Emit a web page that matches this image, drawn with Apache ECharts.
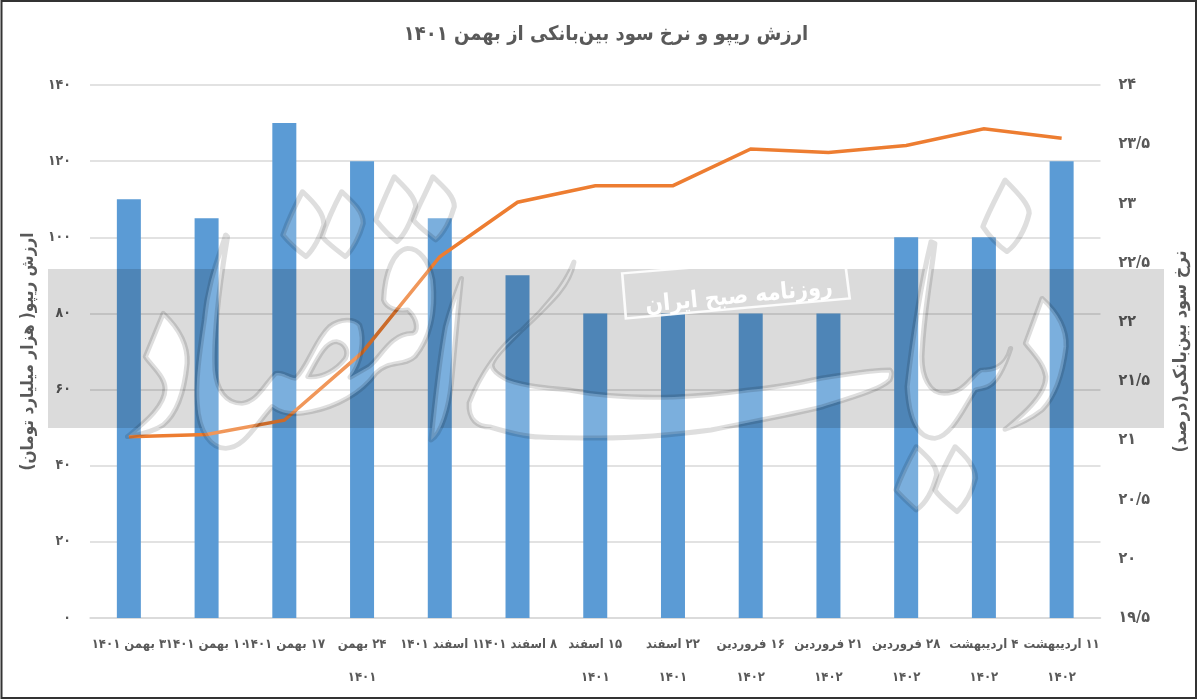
<!DOCTYPE html>
<html><head><meta charset="utf-8">
<script src="https://cdn.jsdelivr.net/npm/echarts@6/dist/echarts.min.js"></script>
<style>html,body{margin:0;padding:0;background:#fff}#c{width:1200px;height:700px;direction:rtl}</style>
</head><body><div id="c"></div>
<script>
const titleText = 'ارزش ریپو و نرخ سود بین‌بانکی از بهمن ۱۴۰۱';
const leftAxisName = 'ارزش ریپو( هزار میلیارد تومان)';
const rightAxisName = 'نرخ سود بین‌بانکی(درصد)';
const bannerText = 'روزنامه صبح ایران';
const categories = ['۳ بهمن ۱۴۰۱','۱۰ بهمن ۱۴۰۱','۱۷ بهمن ۱۴۰۱','۲۴ بهمن\n۱۴۰۱','۱ اسفند ۱۴۰۱','۸ اسفند ۱۴۰۱','۱۵ اسفند\n۱۴۰۱','۲۲ اسفند\n۱۴۰۱','۱۶ فروردین\n۱۴۰۲','۲۱ فروردین\n۱۴۰۲','۲۸ فروردین\n۱۴۰۲','۴ اردیبهشت\n۱۴۰۲','۱۱ اردیبهشت\n۱۴۰۲'];
const repoValues = [110,105,130,120,105,90,80,80,80,80,100,100,120];
const rateValues = [21.03,21.05,21.17,21.74,22.55,23.01,23.15,23.15,23.46,23.43,23.49,23.63,23.55];
const font = '"DejaVu Sans Condensed","DejaVu Sans",sans-serif';
const ink = '#595959';
const toFa = v => String(v).replace(/\d/g, d => '۰۱۲۳۴۵۶۷۸۹'[d]).replace('.', '/');

// watermark outlines, in crop coordinates of the group they belong to
const wmLeft = [
 'M245,800 C290,760 350,710 350,655 C350,620 310,585 295,560 L345,430 C385,470 415,520 412,580 C405,660 385,730 345,765 C310,790 270,795 245,800Z',
 'M520,195 C505,250 470,330 460,450 C445,560 435,640 440,700 C445,790 480,835 520,835 C570,835 600,770 650,710 C680,735 720,735 760,725 C830,710 900,670 940,610 C975,570 1020,590 1050,560 C1090,510 1110,430 1100,330 C1090,270 1060,235 1030,235 C990,240 965,310 962,390 C970,415 1000,425 1030,420 C1060,450 1060,490 1040,490 C980,490 950,570 920,590 L868,622 C900,580 910,510 895,465 C880,445 840,445 810,470 C770,510 750,590 715,625 C690,620 680,605 660,610 C630,640 610,695 565,700 C520,700 495,660 490,600 C485,500 505,330 525,200Z M750,620 C780,560 800,515 830,515 C855,520 865,545 855,565 C830,600 790,625 750,620Z',
 'M1180,325 C1160,380 1145,430 1135,470 C1120,560 1105,700 1095,810 C1125,790 1145,710 1152,640 C1160,540 1170,430 1180,325Z',
 'M735,65 C770,100 795,130 795,165 C785,200 765,240 745,260 C720,240 695,215 680,195 C695,150 715,105 735,65Z',
 'M845,65 C880,100 905,125 905,160 C895,200 875,240 855,260 C830,240 805,220 790,200 C805,150 825,105 845,65Z',
 'M992,20 C1025,55 1050,80 1052,110 C1040,150 1020,195 1000,215 C975,195 955,170 940,150 C955,105 975,60 992,20Z',
 'M1100,20 C1135,55 1160,80 1160,110 C1150,150 1130,190 1108,210 C1085,190 1060,170 1045,150 C1060,105 1085,60 1100,20Z'
];
const wmRight = [
 'M895,215 C870,330 845,500 830,650 C835,750 860,805 905,805 C950,800 985,710 1015,660 C1040,650 1070,670 1110,535 C1095,600 1050,600 1030,600 C1000,620 985,670 930,670 C890,670 870,620 870,560 C875,430 895,320 905,220Z',
 'M1195,385 C1240,430 1262,480 1260,530 C1250,620 1230,680 1195,720 C1160,750 1130,765 1095,778 C1130,745 1205,680 1205,620 C1200,580 1170,550 1150,520 C1165,475 1180,430 1195,385Z',
 'M1095,30 C1135,75 1160,105 1160,130 C1150,180 1125,225 1100,245 C1075,225 1050,195 1035,170 C1050,125 1075,75 1095,30Z',
 'M855,830 C885,860 910,885 910,915 C900,960 880,1000 855,1020 C835,1000 815,980 800,960 C815,915 835,870 855,830Z',
 'M960,830 C990,860 1015,890 1015,925 C1005,970 985,1005 965,1025 C945,1005 920,985 905,960 C920,915 940,870 960,830Z'
];
const wmSwoop = 'M574,262 C570,285 554,300 522,330 C500,345 480,375 469,403 C468,420 478,427 490,427 C510,433 525,437 540,437 C560,438 580,438 600,438 C640,438 680,434 711,430 C750,422 790,415 822,407 C850,398 880,390 890,380 C892,375 892,372 890,370 C870,370 850,374 822,378 C795,384 770,388 748,390 C720,394 700,396 674,397 C640,398 600,396 569,390 C545,388 525,386 508,380 C498,375 492,370 492,365 C495,355 510,342 540,312 C550,300 565,285 574,262Z';
const bannerPoly = [[60,310],[660,255],[675,385],[70,445]];

let shapeCount = 0;
function wmEls(paths) {
  const els = [];
  paths.forEach(d => {
    const name = 'wmShape' + (shapeCount++);
    echarts.graphic.registerShape(name, echarts.graphic.extendPath(d, {}));
    // on their own layer: punch the shape out of the band, then veil it and outline it
    els.push({type:name, zlevel:1, z:101, silent:true,
      style:{fill:'#000', stroke:null, blend:'destination-out'}});
    els.push({type:name, zlevel:1, z:102, silent:true,
      style:{fill:'rgba(255,255,255,0.2)', stroke:null}});
    els.push({type:name, zlevel:1, z:103, silent:true,
      style:{fill:null, stroke:'rgba(0,0,0,0.13)', lineWidth:5, lineJoin:'round', strokeNoScale:true}});
  });
  return els;
}

const chart = echarts.init(document.getElementById('c'));
chart.setOption({
  animation:false,
  backgroundColor:'#fff',
  textStyle:{fontFamily:font},
  title:{text:titleText,left:601,top:20,textAlign:'center',
    textStyle:{fontFamily:font,fontSize:20,fontWeight:'bold',color:ink}},
  grid:{left:90,right:99.5,top:85,bottom:82},
  xAxis:{type:'category',data:categories,
    axisTick:{show:false},
    axisLine:{lineStyle:{color:'#d9d9d9',width:1.5}},
    axisLabel:{interval:0,margin:10,lineHeight:33,fontSize:13,fontWeight:'bold',color:ink,fontFamily:font}},
  yAxis:[
    {type:'value',min:0,max:140,interval:20,
     name:leftAxisName,nameLocation:'middle',nameRotate:90,nameGap:48,
     nameTextStyle:{fontSize:17,fontWeight:'bold',color:ink,fontFamily:font},
     axisLine:{show:false},axisTick:{show:false},
     axisLabel:{margin:19,fontSize:14,fontWeight:'bold',color:ink,fontFamily:font,padding:[0,0,5,0],formatter:toFa},
     splitLine:{lineStyle:{color:'#d9d9d9',width:1.5}}},
    {type:'value',min:19.5,max:24,interval:0.5,
     name:rightAxisName,nameLocation:'middle',nameRotate:90,nameGap:72,
     nameTextStyle:{fontSize:18,fontWeight:'bold',color:ink,fontFamily:font},
     axisLine:{show:false},axisTick:{show:false},
     axisLabel:{margin:18,fontSize:16,fontWeight:'bold',color:ink,fontFamily:font,padding:[0,0,8,0],formatter:toFa},
     splitLine:{show:false}}
  ],
  series:[
    {type:'bar',data:repoValues,barWidth:24,itemStyle:{color:'#5B9BD5'}},
    {type:'line',yAxisIndex:1,data:rateValues,showSymbol:false,symbol:'none',
     lineStyle:{color:'#ED7D31',width:3.5,join:'miter'}}
  ],
  graphic:[
    {type:'rect',zlevel:1,z:100,silent:true,shape:{x:48,y:269,width:1116,height:159},style:{fill:'rgba(0,0,0,0.14)'}},
    {type:'group',x:40,y:170,scaleX:1/2.8,scaleY:1/3,children:wmEls(wmLeft)},
    {type:'group',x:600,y:170,scaleX:1/2.703,scaleY:1/3,children:wmEls(wmRight).concat([
      {type:'polygon',zlevel:1,z:104,silent:true,shape:{points:bannerPoly},
       style:{fill:null,stroke:'#ffffff',lineWidth:2.5,strokeNoScale:true,opacity:.9}}
    ])},
    {type:'group',x:0,y:0,children:wmEls([wmSwoop])},
    {type:'text',zlevel:1,z:105,silent:true,x:739,y:297,rotation:0.096,
     style:{text:bannerText,fill:'#ffffff',fontFamily:font,fontWeight:'bold',fontSize:23,textAlign:'center',verticalAlign:'middle'}},
    {type:'rect',zlevel:1,z:110,silent:true,shape:{x:1.5,y:1,width:1194.5,height:697},style:{fill:null,stroke:'#333333',lineWidth:2}}
  ]
});
</script></body></html>
